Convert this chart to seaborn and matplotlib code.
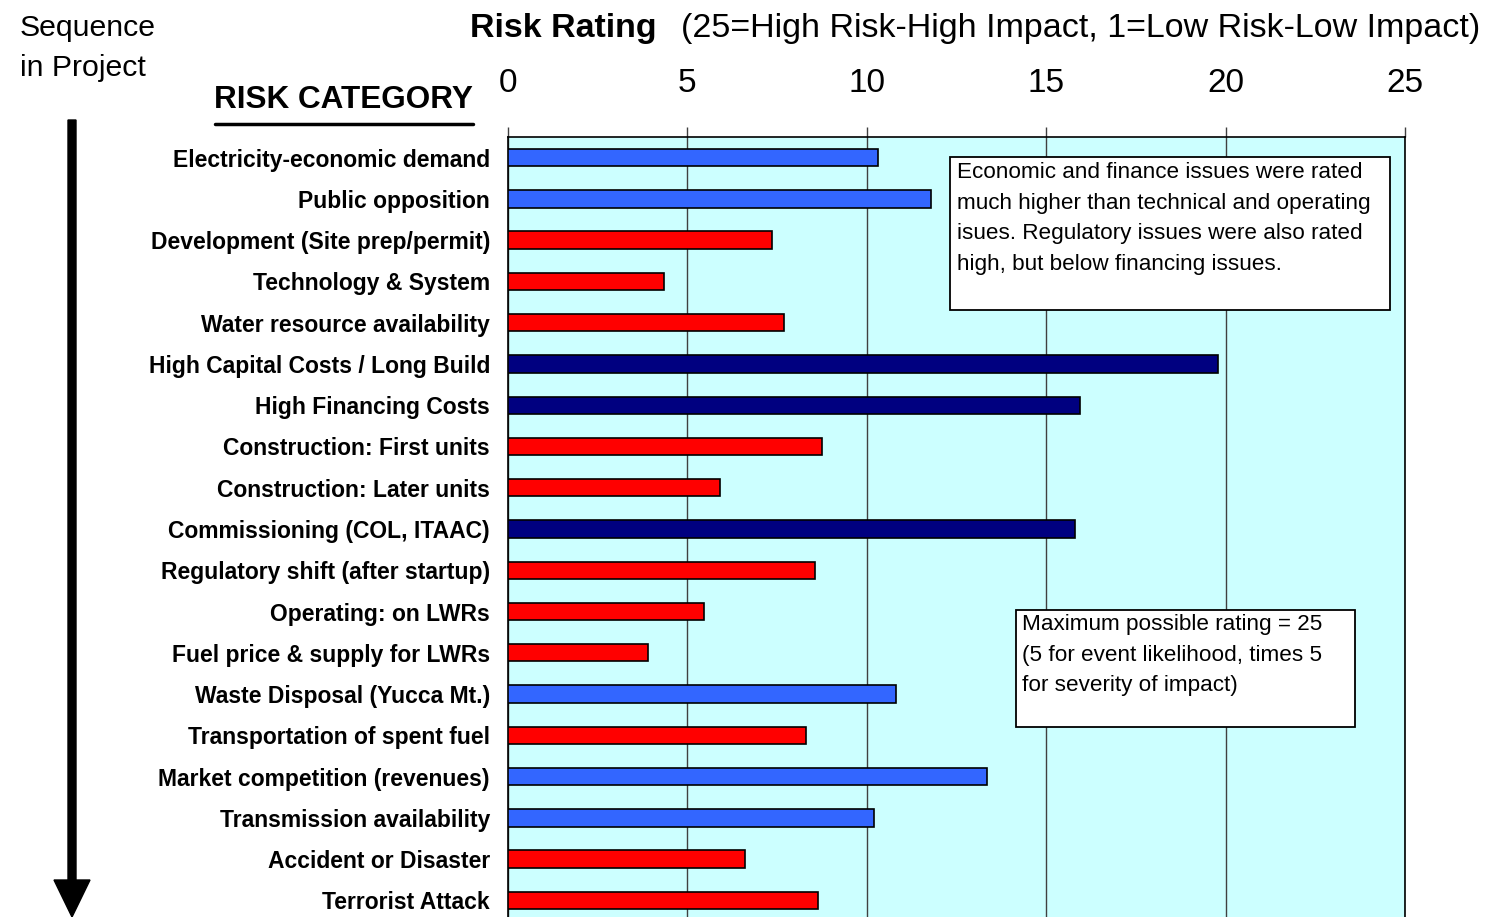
import matplotlib
matplotlib.use("Agg")
import matplotlib.pyplot as plt
import seaborn as sns
import pandas as pd
from matplotlib.patches import Rectangle, FancyArrow
from matplotlib.lines import Line2D

categories = [
    "Electricity-economic demand", "Public opposition", "Development (Site prep/permit)",
    "Technology & System", "Water resource availability", "High Capital Costs / Long Build",
    "High Financing Costs", "Construction: First units", "Construction: Later units",
    "Commissioning (COL, ITAAC)", "Regulatory shift (after startup)", "Operating: on LWRs",
    "Fuel price & supply for LWRs", "Waste Disposal (Yucca Mt.)", "Transportation of spent fuel",
    "Market competition (revenues)", "Transmission availability", "Accident or Disaster",
    "Terrorist Attack",
]
ratings = [10.3, 11.8, 7.35, 4.35, 7.7, 19.8, 15.95, 8.75, 5.9, 15.8, 8.55, 5.45,
           3.9, 10.8, 8.3, 13.35, 10.2, 6.6, 8.65]
groups = ["Economic", "Economic", "Technical", "Technical", "Technical", "Financial",
          "Financial", "Technical", "Technical", "Financial", "Technical", "Technical",
          "Technical", "Economic", "Technical", "Economic", "Economic", "Technical",
          "Technical"]
xticks = [0, 5, 10, 15, 20, 25]
palette = {"Economic": "#3366FF", "Technical": "#FF0000", "Financial": "#000080"}

sns.set_style("white")
plt.rcParams["font.family"] = ["Liberation Sans", "DejaVu Sans"]
plt.rcParams["text.color"] = "black"
plt.rcParams["xtick.color"] = "black"
plt.rcParams["ytick.color"] = "black"
plt.rcParams["axes.labelcolor"] = "black"

W, H = 1493, 917
fig = plt.figure(figsize=(W / 100, H / 100), dpi=100)
ax = fig.add_axes([508 / W, (H - 921) / H, 897 / W, 784 / H])

df = pd.DataFrame({"cat": categories, "val": ratings, "grp": groups})
sns.barplot(data=df, x="val", y="cat", hue="grp", palette=palette, dodge=False,
            width=0.42, edgecolor="black", linewidth=1.2, legend=False, ax=ax,
            orient="h", saturation=1, zorder=3)

ax.set_facecolor("#CCFFFF")
ax.set_xlim(0, 25)
ax.set_ylim(len(categories) - 0.5, -0.5)
ax.set_xticks(xticks)
ax.xaxis.tick_top()
ax.tick_params(axis="x", top=True, bottom=False, length=7.2, width=1, color="#404040",
               labelcolor="black", pad=20, labelsize=24, direction="out")
ax.grid(axis="x", color="#404040", linewidth=1, zorder=1)
ax.set_axisbelow(True)
ax.set_xlabel("")
ax.set_ylabel("")
ax.set_yticks(range(len(categories)))
ax.set_yticklabels(categories, fontweight="bold", fontsize=16.5, color="black")
ax.tick_params(axis="y", length=0, pad=13)
ax.set_yticks([i + 0.5 for i in range(-1, len(categories))], minor=True)
ax.tick_params(axis="y", which="minor", length=5, width=1.2, color="#606060", direction="out")
for s in ax.spines.values():
    s.set_color("black")
    s.set_linewidth(1.2)


def fx(px):
    return px / W


def fy(py):
    return 1 - py / H


# Title
fig.text(fx(470), fy(28), "Risk Rating", fontsize=24.5, fontweight="bold", ha="left", va="center")
fig.text(fx(1480), fy(28), "(25=High Risk-High Impact, 1=Low Risk-Low Impact)", fontsize=24.5,
         ha="right", va="center")

# Sequence label
fig.text(fx(20), fy(48), "Sequence\nin Project", fontsize=21.8, ha="left", va="center", linespacing=1.5)

# Risk category header
fig.text(fx(473), fy(100), "RISK CATEGORY", fontsize=22.7, fontweight="bold", ha="right", va="center")
fig.add_artist(Line2D([fx(215), fx(473)], [fy(124), fy(124)], color="black", linewidth=2.5))

# Arrow
fig.add_artist(FancyArrow(fx(72), fy(120), 0, -(880 - 120) / H, width=8 / W, head_width=36 / W,
                          head_length=37 / H, length_includes_head=False, color="black",
                          transform=fig.transFigure))

# Annotation boxes
fig.add_artist(Rectangle((fx(950), fy(310)), (1390 - 950) / W, (310 - 157) / H, facecolor="white",
                         edgecolor="black", linewidth=1.3, transform=fig.transFigure, zorder=5))
fig.text(fx(957), fy(162),
         "Economic and finance issues were rated\nmuch higher than technical and operating\n"
         "isues. Regulatory issues were also rated\nhigh, but below financing issues.",
         fontsize=16.2, ha="left", va="top", linespacing=1.6, zorder=6)

fig.add_artist(Rectangle((fx(1016), fy(727)), (1355 - 1016) / W, (727 - 610) / H, facecolor="white",
                         edgecolor="black", linewidth=1.3, transform=fig.transFigure, zorder=5))
fig.text(fx(1022), fy(614),
         "Maximum possible rating = 25\n(5 for event likelihood, times 5\nfor severity of impact)",
         fontsize=16.2, ha="left", va="top", linespacing=1.6, zorder=6)

fig.savefig("out.png", dpi=100)
